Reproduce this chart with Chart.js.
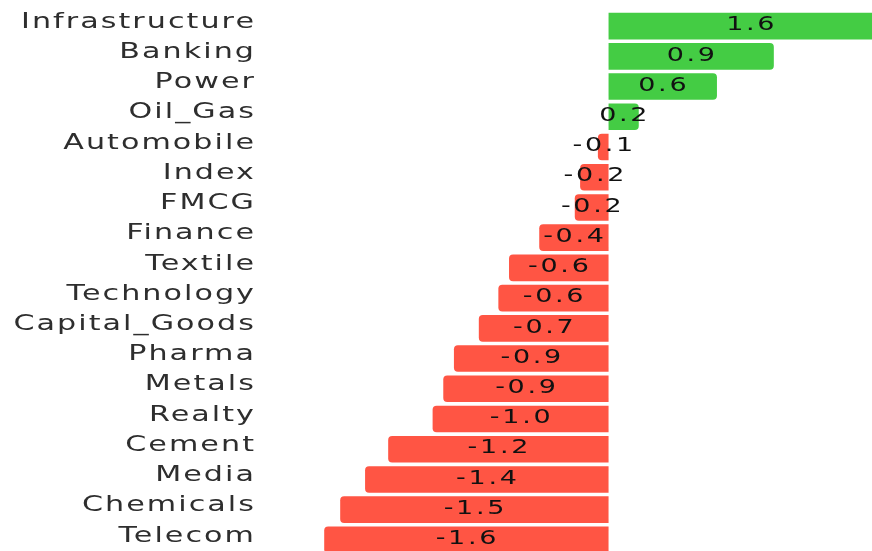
<!DOCTYPE html>
<html>
<head>
<meta charset="utf-8">
<script src="https://cdn.jsdelivr.net/npm/chart.js@4/dist/chart.umd.min.js"></script>
<style>
    html, body { margin: 0; padding: 0; overflow: hidden; background: #fff; }
    canvas { display: block; }
</style>
</head>
<body>
<canvas id="sector-chart" width="900" height="555"></canvas>
<script>
// Sector performance (% change)
const sectors = ['Infrastructure', 'Banking', 'Power', 'Oil_Gas', 'Automobile', 'Index', 'FMCG',
    'Finance', 'Textile', 'Technology', 'Capital_Goods', 'Pharma', 'Metals', 'Realty',
    'Cement', 'Media', 'Chemicals', 'Telecom'];
const changes = [1.6, 0.93, 0.61, 0.17, -0.06, -0.16, -0.19, -0.39, -0.56, -0.62, -0.73,
    -0.87, -0.93, -0.99, -1.24, -1.37, -1.51, -1.6];

const GREEN = 'rgb(68, 204, 68)';
const RED = 'rgb(255, 85, 68)';

// draw text stretched sideways (the original uses a wide font)
function wideText(ctx, text, x, y, stretch, align) {
    ctx.save();
    ctx.translate(x, y);
    ctx.scale(stretch, 1);
    ctx.textAlign = align;
    ctx.fillText(text, 0, 0);
    ctx.restore();
}

// Category names next to the y axis
const categoryLabels = {
    id: 'categoryLabels',
    afterDraw(chart) {
        const ctx = chart.ctx;
        const yScale = chart.scales.y;
        ctx.save();
        ctx.font = '22px "DejaVu Sans"';
        ctx.letterSpacing = '1.5px';
        ctx.fillStyle = '#2e2e2e';
        ctx.textBaseline = 'middle';
        yScale.ticks.forEach((tick, i) => {
            const y = yScale.getPixelForTick(i) - 4;
            wideText(ctx, yScale.getLabelForValue(tick.value), yScale.right - 6, y, 1.37, 'right');
        });
        ctx.restore();
    }
};

// Value text in the middle of each bar
const valueLabels = {
    id: 'valueLabels',
    afterDatasetsDraw(chart) {
        const ctx = chart.ctx;
        const meta = chart.getDatasetMeta(0);
        ctx.save();
        ctx.font = '20px "DejaVu Sans"';
        ctx.letterSpacing = '2px';
        ctx.fillStyle = '#111';
        ctx.textBaseline = 'middle';
        meta.data.forEach((bar, i) => {
            const x = (bar.x + bar.base) / 2;
            wideText(ctx, changes[i].toFixed(1), x + 1, bar.y - 1, 1.35, 'center');
        });
        ctx.restore();
    }
};

const ctx = document.getElementById('sector-chart').getContext('2d');
new Chart(ctx, {
    type: 'bar',
    data: {
        labels: sectors,
        datasets: [{
            data: changes,
            backgroundColor: changes.map(v => v >= 0 ? GREEN : RED),
            borderRadius: 4,
            borderSkipped: 'start',
            barPercentage: 0.88,
            categoryPercentage: 1
        }]
    },
    options: {
        indexAxis: 'y',
        responsive: false,
        animation: false,
        layout: { padding: { top: 11, bottom: 0, left: 0, right: 0 } },
        plugins: {
            legend: { display: false },
            tooltip: { enabled: false }
        },
        scales: {
            x: {
                display: false,
                min: -1.95,
                max: 1.64
            },
            y: {
                grid: { display: false },
                border: { display: false },
                ticks: { display: false },
                afterFit(scale) {
                    scale.width = 262;
                }
            }
        }
    },
    plugins: [valueLabels, categoryLabels]
});
</script>
</body>
</html>
